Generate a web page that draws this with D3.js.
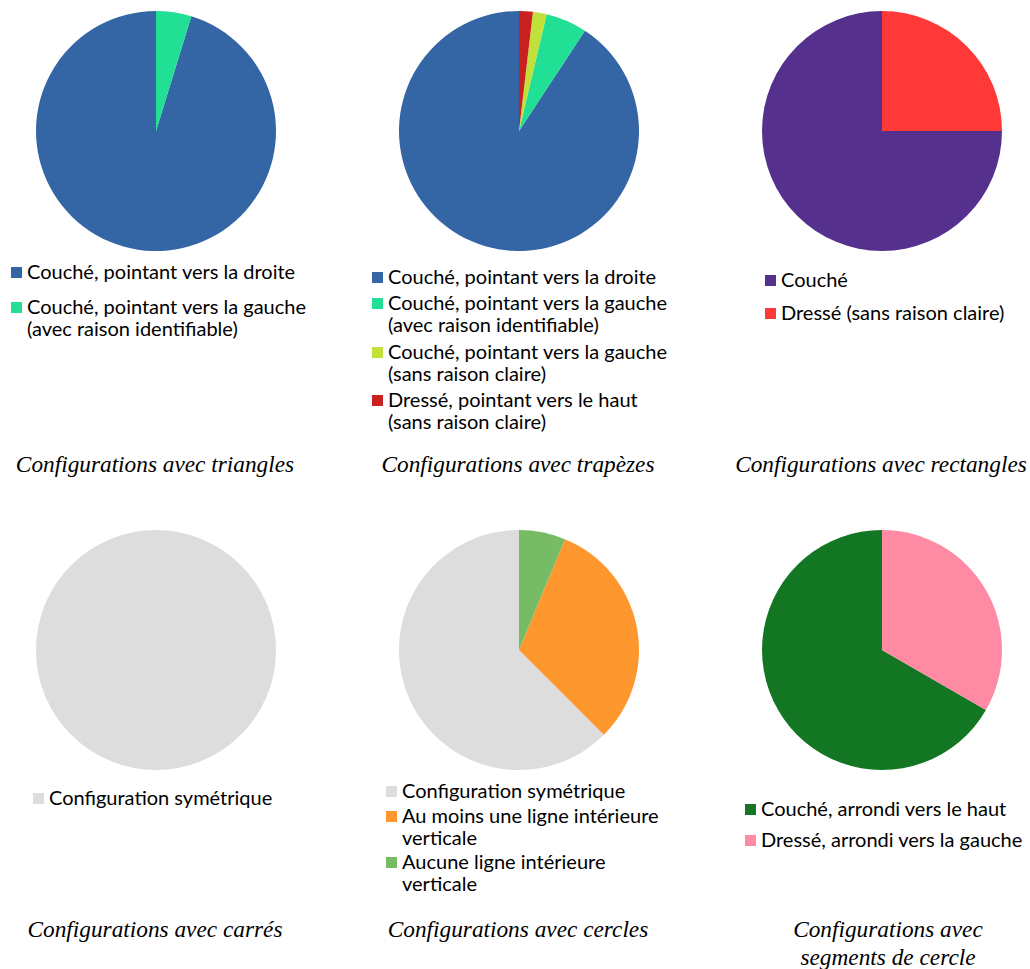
<!DOCTYPE html>
<html><head><meta charset="utf-8">
<script src="https://cdn.jsdelivr.net/npm/d3@7"></script>
<style>
body{margin:0;background:#fff;}
svg{display:block;}
.leg{font-family:Lato,"Carlito","Open Sans",sans-serif;font-size:20px;fill:#000;}
.ttl{font-family:"Liberation Serif","DejaVu Serif",serif;font-style:italic;font-size:23.3px;fill:#000;}
</style></head>
<body>
<script>
// ---- data ----
const titles = [
  ["Configurations avec triangles"],
  ["Configurations avec trapèzes"],
  ["Configurations avec rectangles"],
  ["Configurations avec carrés"],
  ["Configurations avec cercles"],
  ["Configurations avec", "segments de cercle"]
];
const trianglesCats = [["Couché, pointant vers la droite"], ["Couché, pointant vers la gauche", "(avec raison identifiable)"]];
const trianglesVals = [20, 1];
const trianglesCols = ["#3465a4", "#21df95"];

const trapezesCats = [["Couché, pointant vers la droite"], ["Couché, pointant vers la gauche", "(avec raison identifiable)"], ["Couché, pointant vers la gauche", "(sans raison claire)"], ["Dressé, pointant vers le haut", "(sans raison claire)"]];
const trapezesVals = [49, 3, 1, 1];
const trapezesCols = ["#3465a4", "#21df95", "#c2e03a", "#c9211e"];

const rectanglesCats = [["Couché"], ["Dressé (sans raison claire)"]];
const rectanglesVals = [3, 1];
const rectanglesCols = ["#55308d", "#ff3838"];

const carresCats = [["Configuration symétrique"]];
const carresVals = [1];
const carresCols = ["#dddddd"];

const cerclesCats = [["Configuration symétrique"], ["Au moins une ligne intérieure", "verticale"], ["Aucune ligne intérieure", "verticale"]];
const cerclesVals = [10, 5, 1];
const cerclesCols = ["#dddddd", "#ff972f", "#77bc65"];

const segmentsCats = [["Couché, arrondi vers le haut"], ["Dressé, arrondi vers la gauche"]];
const segmentsVals = [2, 1];
const segmentsCols = ["#127622", "#ff8aa3"];

// ---- layout ----
const panels = [
  {cats: trianglesCats, vals: trianglesVals, cols: trianglesCols, cx:156, cy:131, lx:11, ly:[272,307], tx:155, ty:464},
  {cats: trapezesCats, vals: trapezesVals, cols: trapezesCols, cx:519, cy:131, lx:372, ly:[277,303,352,400], tx:518, ty:464},
  {cats: rectanglesCats, vals: rectanglesVals, cols: rectanglesCols, cx:882, cy:131, lx:765, ly:[280,313], tx:881, ty:464},
  {cats: carresCats, vals: carresVals, cols: carresCols, cx:156, cy:650, lx:33, ly:[798], tx:155, ty:929},
  {cats: cerclesCats, vals: cerclesVals, cols: cerclesCols, cx:519, cy:650, lx:386, ly:[791,816,862], tx:518, ty:929},
  {cats: segmentsCats, vals: segmentsVals, cols: segmentsCols, cx:882, cy:650, lx:745, ly:[809,840], tx:888, ty:929}
];
const R = 120, lineH = 22;

const svg = d3.select("body").append("svg").attr("width", 1030).attr("height", 969);

const pie = d3.pie().sort(null).startAngle(0).endAngle(-2 * Math.PI);
const arc = d3.arc().innerRadius(0).outerRadius(R);

panels.forEach((p, i) => {
  const g = svg.append("g").attr("transform", `translate(${p.cx},${p.cy})`);
  g.selectAll("path").data(pie(p.vals)).join("path")
    .attr("d", arc).attr("fill", (d, j) => p.cols[j]);

  const lg = svg.append("g");
  p.cats.forEach((lines, j) => {
    const y = p.ly[j];
    lg.append("rect").attr("x", p.lx).attr("y", y - 5).attr("width", 11).attr("height", 11).attr("fill", p.cols[j]);
    lines.forEach((t, k) => {
      lg.append("text").attr("class", "leg").attr("x", p.lx + 16).attr("y", y + k * lineH)
        .attr("dy", "0.35em").text(t);
    });
  });

  const tl = titles[i];
  tl.forEach((t, k) => {
    svg.append("text").attr("class", "ttl").attr("x", p.tx).attr("y", p.ty + k * 28)
      .attr("dy", "0.35em").attr("text-anchor", "middle").text(t);
  });
});
</script>
</body></html>
